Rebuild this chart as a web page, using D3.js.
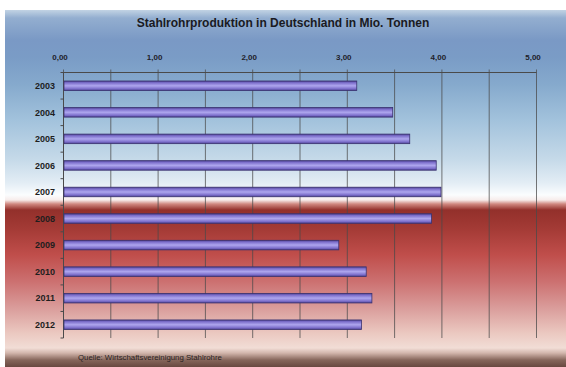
<!DOCTYPE html>
<html><head><meta charset="utf-8">
<script src="https://cdn.jsdelivr.net/npm/d3@7"></script>
<style>html,body{margin:0;padding:0;background:#fff;}svg{display:block;}</style>
</head><body>
<script>
const years = ["2003","2004","2005","2006","2007","2008","2009","2010","2011","2012"];
const values = [3.10, 3.48, 3.66, 3.94, 3.99, 3.89, 2.91, 3.20, 3.26, 3.15];
const tickValues = [0, 1, 2, 3, 4, 5];
const gridValues = [0, 0.5, 1, 1.5, 2, 2.5, 3, 3.5, 4, 4.5, 5];
const titleText = "Stahlrohrproduktion in Deutschland in Mio. Tonnen";
const sourceText = "Quelle: Wirtschaftsvereinigung Stahlrohre";

const W = 566, H = 367;
const svg = d3.select("body").append("svg").attr("width", W).attr("height", H);
const defs = svg.append("defs");

const bgStops = [
  [10,"#c2d3e4"],[18,"#93aed0"],[40,"#7a99c5"],[58,"#7a9cc6"],[85,"#86aacd"],
  [120,"#a2c2dc"],[160,"#c6dae9"],[183,"#e3edf5"],[195,"#fbfdfe"],[200,"#f7eceb"],
  [204,"#d08880"],[210,"#93302b"],[228,"#a33a35"],[255,"#c04e4b"],[282,"#cc7171"],
  [310,"#dba09e"],[333,"#ebc8c0"],[348,"#f1ddd6"],[353,"#d2b6ac"],[360,"#86665b"],[367,"#684840"]
];
const bg = defs.append("linearGradient").attr("id","bg")
  .attr("x1",0).attr("y1",0).attr("x2",0).attr("y2",1);
bg.selectAll("stop").data(bgStops).join("stop")
  .attr("offset", d => ((d[0]-10)/(H-10))*100 + "%")
  .attr("stop-color", d => d[1]);

const bar = defs.append("linearGradient").attr("id","bar")
  .attr("x1",0).attr("y1",0).attr("x2",0).attr("y2",1);
[[0,"#4a3f8e"],[0.18,"#7c6ecb"],[0.5,"#aea6ee"],[0.82,"#7c6ecb"],[1,"#4a3f8e"]]
  .forEach(s => bar.append("stop").attr("offset", s[0]*100+"%").attr("stop-color", s[1]));

svg.append("rect").attr("x",5).attr("y",10).attr("width",W-5).attr("height",H-10).attr("fill","url(#bg)");

const x = d3.scaleLinear().domain([0,5]).range([63.5, 536.5]);
const y = d3.scaleBand().domain(years).range([72.5, 338]).paddingInner(0.64).paddingOuter(0.32);

// grid
svg.append("g").selectAll("line").data(gridValues).join("line")
  .attr("x1", d => x(d)).attr("x2", d => x(d))
  .attr("y1", 69.5).attr("y2", 338)
  .attr("stroke", "#4a4a4a").attr("stroke-opacity", 0.75).attr("stroke-width", 1);

// top axis line
svg.append("line").attr("x1", x(0)).attr("x2", x(5)).attr("y1", 72.5).attr("y2", 72.5)
  .attr("stroke", "#4a4a4a").attr("stroke-width", 1);

// left axis with ticks at band boundaries
const bounds = d3.range(years.length + 1);
svg.append("line").attr("x1", x(0)).attr("x2", x(0)).attr("y1", 72.5).attr("y2", 338)
  .attr("stroke", "#4a4a4a").attr("stroke-width", 1);
svg.append("g").selectAll("line").data(bounds).join("line")
  .attr("x1", x(0) - 3).attr("x2", x(0))
  .attr("y1", i => 72.5 + i * (265.5/years.length)).attr("y2", i => 72.5 + i * (265.5/years.length))
  .attr("stroke", "#4a4a4a").attr("stroke-width", 1);

// axis tick labels
const fmt = d => d3.format(".2f")(d).replace(".", ",");
svg.append("g").selectAll("text").data(tickValues).join("text")
  .attr("x", d => x(d) - 3.5).attr("y", 60)
  .attr("text-anchor", "middle")
  .attr("font-family", "Liberation Sans, Arial, sans-serif")
  .attr("font-size", 8).attr("font-weight", "bold").attr("fill", "#1e1e2a")
  .text(fmt);

// year labels
svg.append("g").selectAll("text").data(years).join("text")
  .attr("x", 55).attr("y", d => y(d) + y.bandwidth()/2 + 3.3)
  .attr("text-anchor", "end")
  .attr("font-family", "Liberation Sans, Arial, sans-serif")
  .attr("font-size", 9).attr("font-weight", "bold").attr("fill", "#1e1e1e")
  .text(d => d);

// bars
svg.append("g").selectAll("rect").data(years).join("rect")
  .attr("x", x(0) + 0.5)
  .attr("y", d => y(d))
  .attr("width", (d, i) => x(values[i]) - x(0) - 0.5)
  .attr("height", y.bandwidth())
  .attr("fill", "url(#bar)")
  .attr("stroke", "#3a3270").attr("stroke-width", 0.8);

// title
svg.append("text").attr("x", 283).attr("y", 27).attr("text-anchor", "middle")
  .attr("font-family", "Liberation Sans, Arial, sans-serif")
  .attr("font-size", 12).attr("font-weight", "bold").attr("fill", "#1a1a22")
  .text(titleText);

// source
svg.append("text").attr("x", 78).attr("y", 359.5)
  .attr("font-family", "Liberation Sans, Arial, sans-serif")
  .attr("font-size", 7.8).attr("fill", "#2a2222")
  .text(sourceText);
</script>
</body></html>
